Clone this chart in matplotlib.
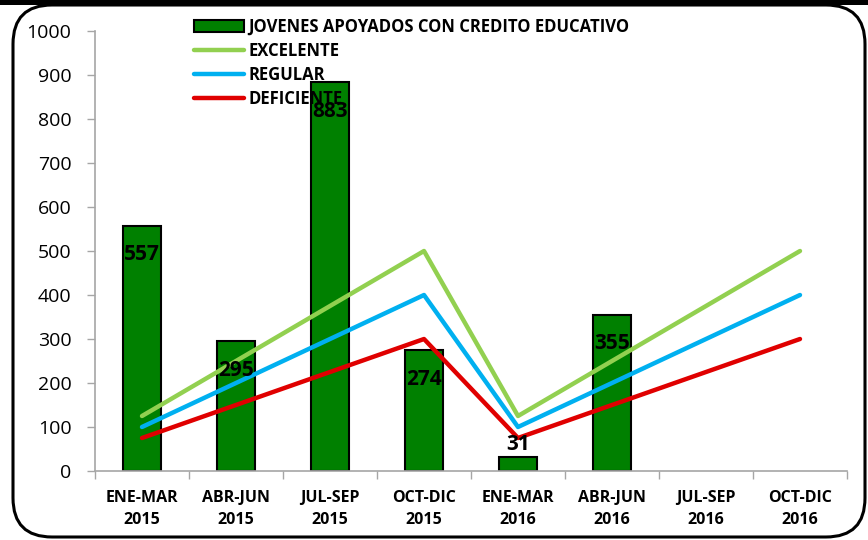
import matplotlib
matplotlib.use("Agg")
import matplotlib.pyplot as plt
from matplotlib.patches import FancyBboxPatch, Rectangle, Patch
from matplotlib.lines import Line2D
from matplotlib import font_manager

names = {f.name for f in font_manager.fontManager.ttflist}
FONT = 'Liberation Sans Narrow' if 'Liberation Sans Narrow' in names else 'Open Sans'
plt.rcParams['font.family'] = [FONT, 'DejaVu Sans']

categories = ["ENE-MAR\n2015", "ABR-JUN\n2015", "JUL-SEP\n2015", "OCT-DIC\n2015",
              "ENE-MAR\n2016", "ABR-JUN\n2016", "JUL-SEP\n2016", "OCT-DIC\n2016"]
jovenes = [557, 295, 883, 274, 31, 355, None, None]
excelente = [125, 250, 375, 500, 125, 250, 375, 500]
regular = [100, 200, 300, 400, 100, 200, 300, 400]
deficiente = [75, 150, 225, 300, 75, 150, 225, 300]
yticks = [0, 100, 200, 300, 400, 500, 600, 700, 800, 900, 1000]

fig = plt.figure(figsize=(8.68, 5.4), dpi=100)
ax = fig.add_axes([95/868, 69/540, 752/868, 440/540])

x = list(range(len(categories)))
bx = [i for i, v in zip(x, jovenes) if v is not None]
bv = [v for v in jovenes if v is not None]
bars = ax.bar(bx, bv, width=0.41, color='#008000', edgecolor='black', linewidth=1.5, zorder=2)

ax.plot(x, excelente, color='#92D050', lw=3.2, solid_capstyle='round', zorder=3)
ax.plot(x, regular, color='#00B0F0', lw=3.2, solid_capstyle='round', zorder=3)
ax.plot(x, deficiente, color='#E00000', lw=3.2, solid_capstyle='round', zorder=3)

for xi, v in zip(bx, bv):
    if v > 100:
        ax.text(xi, v - 42, str(v), ha='center', va='top', fontsize=15, fontweight='bold', zorder=4)
    else:
        ax.text(xi, v + 6, str(v), ha='center', va='bottom', fontsize=15, fontweight='bold', zorder=4)

ax.set_xlim(-0.5, len(categories) - 0.5)
ax.set_ylim(0, 1000)
ax.set_yticks(yticks)
ax.set_yticklabels([str(t) for t in yticks], fontsize=14)
ax.set_xticks(x)
ax.set_xticklabels(categories, fontsize=11.5, fontweight='bold', linespacing=1.5)
ax.tick_params(axis='x', length=0, pad=14)
ax.set_xticks([i - 0.5 for i in range(len(categories) + 1)], minor=True)
ax.tick_params(axis='x', which='minor', length=6, color='#A6A6A6', width=1)
ax.tick_params(axis='y', length=6, color='#A6A6A6', width=1, pad=11)
for s in ['top', 'right']:
    ax.spines[s].set_visible(False)
for s in ['left', 'bottom']:
    ax.spines[s].set_color('#A6A6A6')
    ax.spines[s].set_linewidth(1.2)

handles = [Patch(facecolor='#008000', edgecolor='black', linewidth=1.5),
           Line2D([], [], color='#92D050', lw=3.2, solid_capstyle='round'),
           Line2D([], [], color='#00B0F0', lw=3.2, solid_capstyle='round'),
           Line2D([], [], color='#E00000', lw=3.2, solid_capstyle='round')]
labels = ["JOVENES APOYADOS CON CREDITO EDUCATIVO", "EXCELENTE", "REGULAR", "DEFICIENTE"]
leg = fig.legend(handles, labels, loc='upper left', bbox_to_anchor=(182/868, 1 - 6/540),
                 frameon=False, prop={'weight': 'bold', 'size': 12}, handlelength=3.0,
                 handleheight=0.8, handletextpad=0.3, labelspacing=0.37, borderpad=0.2)
leg.set_zorder(1)

# outer frame
fig.patches.append(Rectangle((0, 1 - 5/540), 1, 5/540, transform=fig.transFigure,
                             facecolor='black', edgecolor='none'))
fig.patches.append(FancyBboxPatch((13/868, 3/540), 852/868, 532/540,
                                  boxstyle='round,pad=0,rounding_size=0.045',
                                  transform=fig.transFigure, facecolor='none',
                                  edgecolor='black', linewidth=2.2, mutation_aspect=868/540))

fig.savefig('out.png', dpi=100)
